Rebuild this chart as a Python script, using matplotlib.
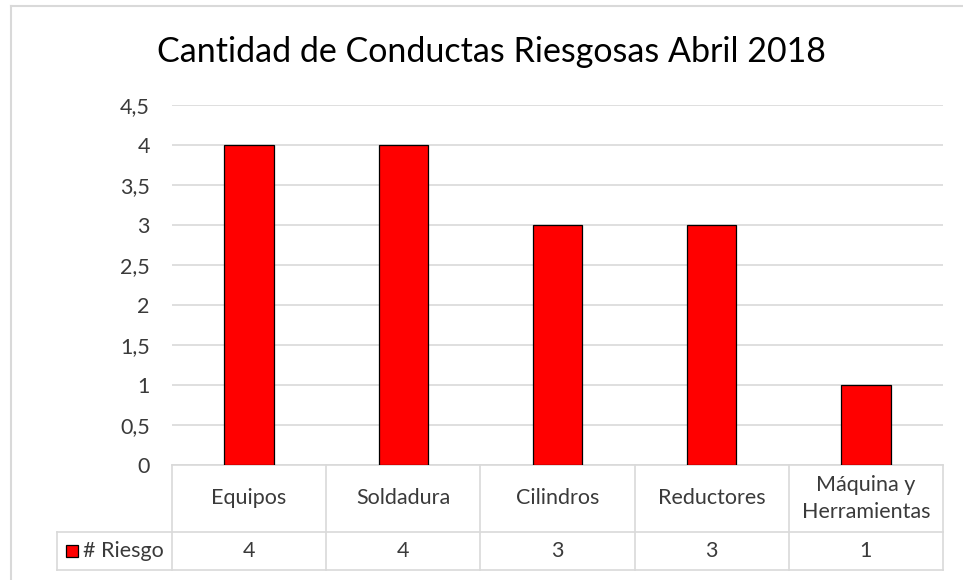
import matplotlib.pyplot as plt
from matplotlib.lines import Line2D
from matplotlib.patches import Rectangle
import matplotlib.transforms as mtransforms

categories = ["Equipos", "Soldadura", "Cilindros", "Reductores", "Máquina y\nHerramientas"]
riesgo = [4, 4, 3, 3, 1]
series_name = "# Riesgo"
title = "Cantidad de Conductas Riesgosas Abril 2018"
yticks = [0, 0.5, 1, 1.5, 2, 2.5, 3, 3.5, 4, 4.5]
ytick_labels = ["0", "0,5", "1", "1,5", "2", "2,5", "3", "3,5", "4", "4,5"]

GRID = "#d9d9d9"
TEXT = "#3a3a3a"
W, H = 963, 580
FS = 15.5

plt.rcParams["font.family"] = ["Lato", "DejaVu Sans"]

fig = plt.figure(figsize=(W / 100, H / 100), dpi=100)

# outer chart border (right/bottom fall outside the crop)
fig.add_artist(Line2D([11 / W, 11 / W], [0, 1 - 6 / H], color=GRID, lw=1.5))
fig.add_artist(Line2D([11 / W, 1], [1 - 6 / H, 1 - 6 / H], color=GRID, lw=1.5))

left, right = 172 / W, 943 / W
bottom, top = 1 - 465 / H, 1 - 105 / H
ax = fig.add_axes([left, bottom, right - left, top - bottom])

x = list(range(len(categories)))
ax.bar(x, riesgo, width=0.32, color="#ff0000", edgecolor="black", linewidth=0.9, zorder=3)

ax.set_xlim(-0.5, len(categories) - 0.5)
ax.set_ylim(0, 4.5)
ax.set_yticks(yticks)
ax.set_yticklabels(ytick_labels, fontsize=FS, color=TEXT)
ax.tick_params(axis="y", length=0, pad=16)
ax.tick_params(axis="x", bottom=False, labelbottom=False)
ax.yaxis.grid(True, color=GRID, lw=1.2, zorder=0)
for s in ax.spines.values():
    s.set_visible(False)

fig.text(491 / W, 1 - 52 / H, title, ha="center", va="center", fontsize=24.5, color="black")

# data table below the plot
trans = mtransforms.blended_transform_factory(ax.transData, ax.transAxes)
ax_h = 465 - 105
y_mid = -(532 - 465) / ax_h
y_bot = -(570 - 465) / ax_h
col_w = (943 - 172) / len(categories)
x_leg = -0.5 - (172 - 57) / col_w
x_end = len(categories) - 0.5

def tline(xs, ys):
    ax.add_line(Line2D(xs, ys, transform=trans, color=GRID, lw=1.2, clip_on=False))

tline([-0.5, x_end], [0, 0])
tline([x_leg, x_end], [y_mid, y_mid])
tline([x_leg, x_end], [y_bot, y_bot])
tline([x_leg, x_leg], [y_mid, y_bot])
for i in range(len(categories) + 1):
    tline([i - 0.5, i - 0.5], [0, y_bot])

for i, (cat, val) in enumerate(zip(categories, riesgo)):
    ax.text(i, y_mid / 2, cat, transform=trans, ha="center", va="center",
            fontsize=FS, color=TEXT, linespacing=1.4)
    ax.text(i, (y_mid + y_bot) / 2, str(val), transform=trans, ha="center", va="center",
            fontsize=FS, color=TEXT)

# legend key inside the table
key_w = 12 / col_w
key_h = 12 / ax_h
x_key = x_leg + (66 - 57) / col_w
ax.add_patch(Rectangle((x_key, (y_mid + y_bot) / 2 - key_h / 2), key_w, key_h,
                       transform=trans, facecolor="#ff0000", edgecolor="black",
                       lw=0.9, clip_on=False))
ax.text(x_key + key_w + 5 / col_w, (y_mid + y_bot) / 2, series_name, transform=trans,
        ha="left", va="center", fontsize=FS, color=TEXT)

fig.savefig("out.png", dpi=100)
